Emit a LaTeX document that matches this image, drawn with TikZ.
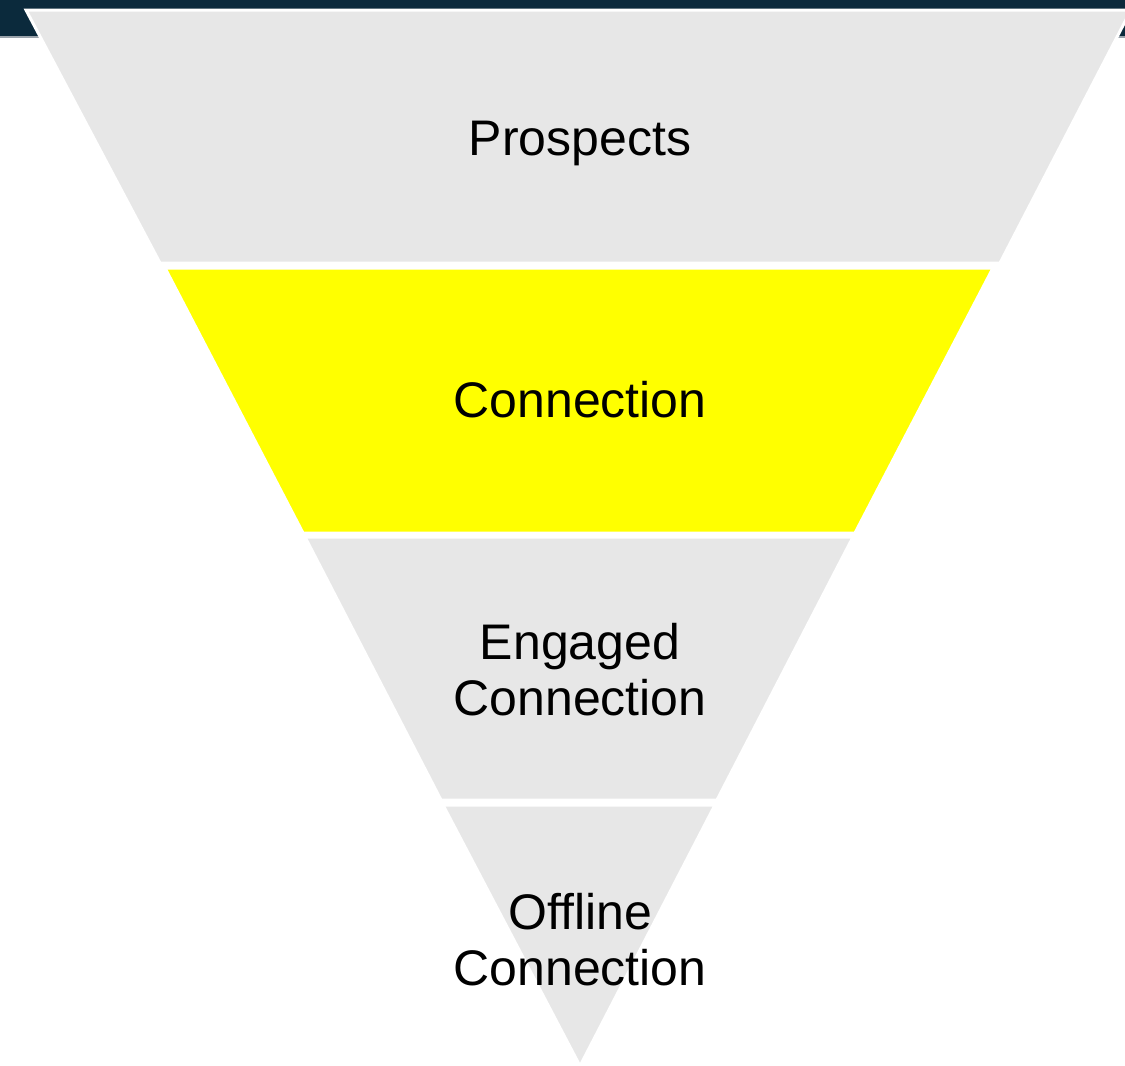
\documentclass[tikz,border=0pt]{standalone}
\usepackage{fontspec}
\setmainfont{Liberation Sans}
\usepackage{tikz}

\definecolor{slidenavy}{HTML}{0B2A3C}
\definecolor{slideline}{HTML}{9AA3AB}
\definecolor{funnelgrey}{HTML}{E7E7E7}
\definecolor{funnelyellow}{HTML}{FFFF00}

\begin{document}
\begin{tikzpicture}[x=1pt,y=-1pt]
            \tikzstyle{band}=[draw=white,line width=3pt,line join=miter]
            \tikzstyle{stage}=[font=\fontsize{50}{56}\selectfont,align=center,text=black,inner sep=0pt]
            \useasboundingbox (0,0) rectangle (1125,1066);

            % slide background behind the funnel
            \fill[slidenavy] (0,0) rectangle (1125,36);
            \fill[slideline] (0,36) rectangle (1125,38);

            % funnel bands: top y, bottom y, four corners, colour
            \foreach \yt/\yb/\xa/\xb/\xc/\xd/\col in {10/263/26/160/1131/1000/funnelgrey,
                    268/533/165/303/993/855/funnelyellow,
                    537/800/305/441/853/717/funnelgrey,
                    805/1066/443/580/715/580/funnelgrey}
                \filldraw[band,fill=\col] (\xa,\yt) -- (\xc,\yt) -- (\xd,\yb) -- (\xb,\yb) -- cycle;

            \node[stage] (S-pros) at (580,143) {Prospects};
            \node[stage] (S-conn) at (580,400) {Connection};
            \node[stage] (S-eng) at (580,670) {Engaged\\Connection};
            \node[stage] (S-off) at (580,940) {Offline\\Connection};
        \end{tikzpicture}
\end{document}
